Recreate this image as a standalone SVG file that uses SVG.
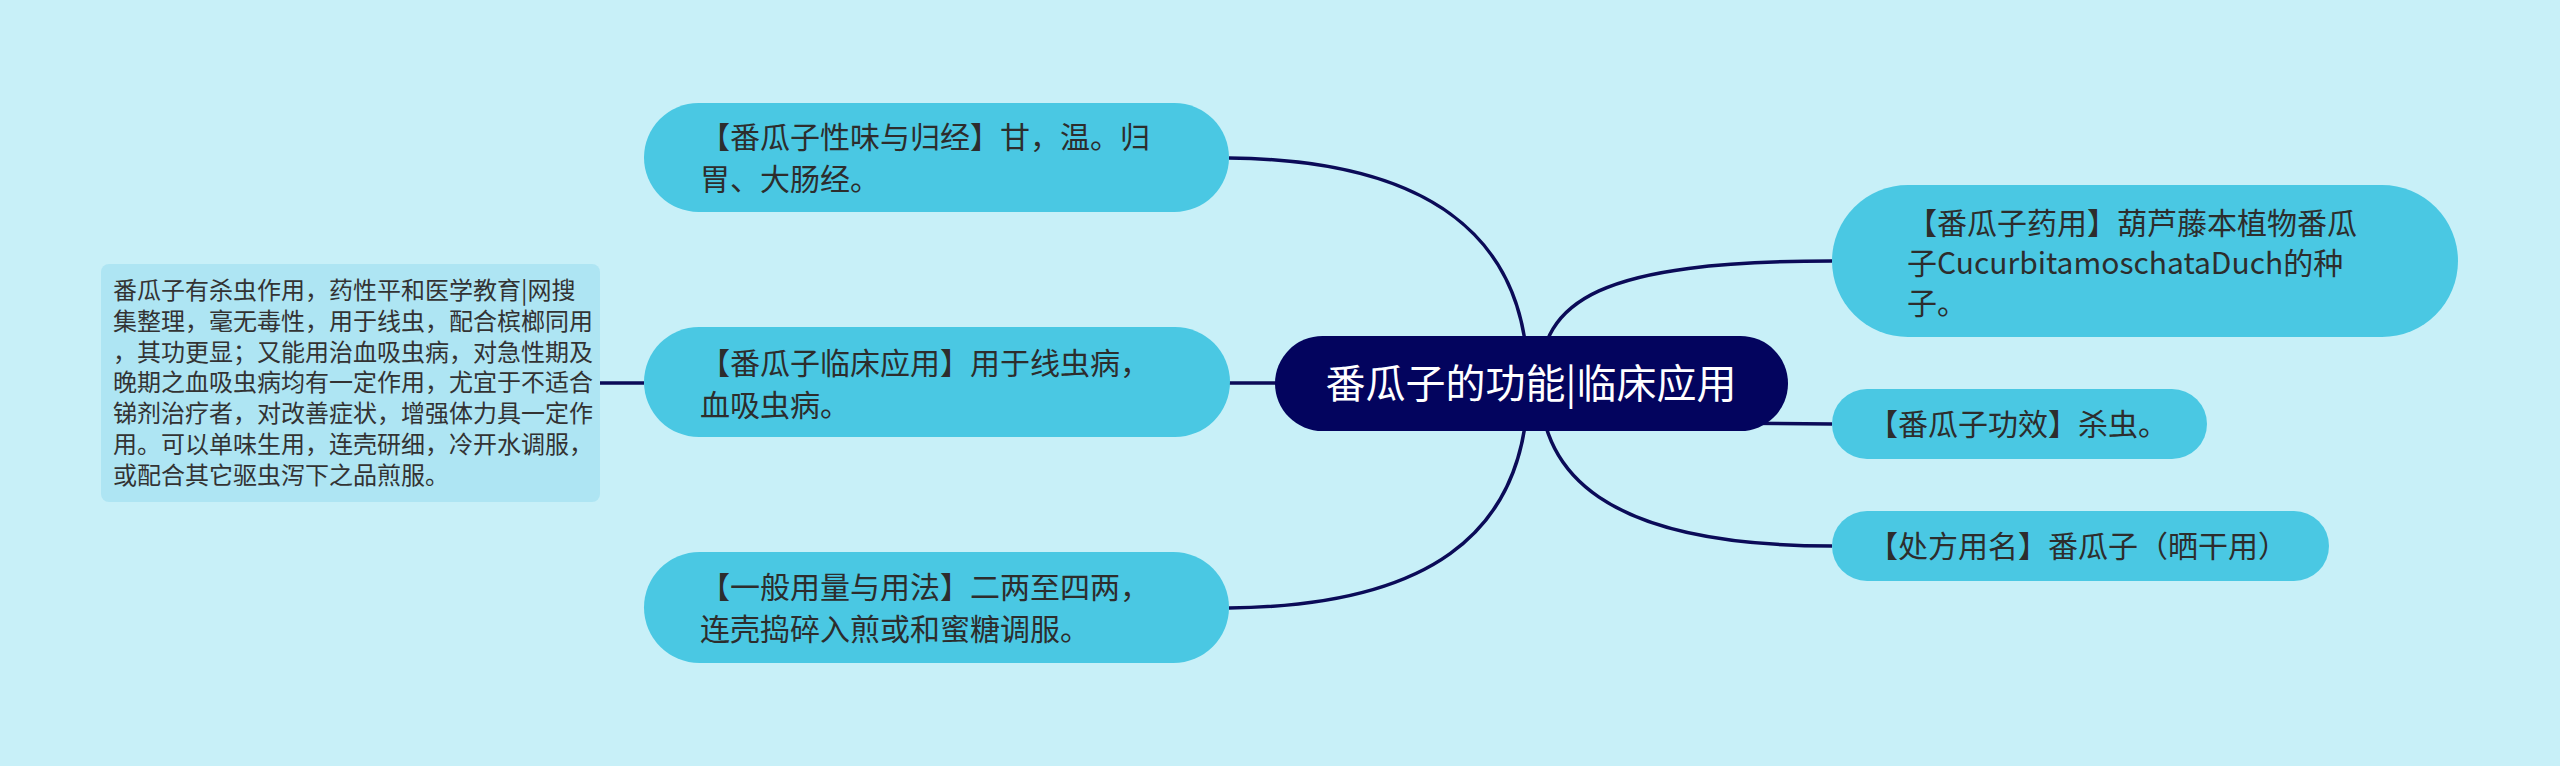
<svg xmlns="http://www.w3.org/2000/svg" width="2560" height="766" viewBox="0 0 2560 766">
<style>
.pill{fill:#4ac8e3;}
.box{fill:#aee5f3;}
.center{fill:#03045e;}
.t{font-family:"Noto Sans CJK SC","Noto Sans",sans-serif;font-size:30px;fill:#2d2d2d;}
.s{font-family:"Noto Sans CJK SC","Noto Sans",sans-serif;font-size:24px;fill:#333333;}
.c{font-family:"Noto Sans CJK SC","Noto Sans",sans-serif;font-size:40px;fill:#ffffff;text-anchor:middle;}
.ln{fill:none;stroke:#0b0b58;stroke-width:3.5;}
</style>
<rect width="2560" height="766" fill="#c8f0f8"/>
<g id="connectors">
<path class="ln" d="M1229,158 C1420,160 1528,230 1528,383"/>
<path class="ln" d="M1229,383 L1400,383"/>
<path class="ln" d="M1229,608 C1420,606 1528,540 1528,383"/>
<path class="ln" d="M1540,383 C1540,300 1600,261 1832,261"/>
<path class="ln" d="M1700,423 L1832,424"/>
<path class="ln" d="M1540,383 C1540,470 1600,546 1832,546"/>
<path class="ln" d="M600,383 L644,383"/>
</g>
<g id="node-center">
<rect class="center" x="1275" y="336" width="513" height="95" rx="47.5"/>
<text class="c" x="1531" y="398">番瓜子的功能|临床应用</text>
</g>
<g id="node-xingwei">
<rect class="pill" x="644" y="103" width="585" height="109" rx="54.5"/>
<text class="t" x="700" y="148">【番瓜子性味与归经】甘，温。归</text>
<text class="t" x="700" y="190">胃、大肠经。</text>
</g>
<g id="node-linchuang">
<rect class="pill" x="644" y="327" width="586" height="110" rx="55"/>
<text class="t" x="700" y="374">【番瓜子临床应用】用于线虫病，</text>
<text class="t" x="700" y="416">血吸虫病。</text>
</g>
<g id="node-yongliang">
<rect class="pill" x="644" y="552" width="585" height="111" rx="55.5"/>
<text class="t" x="700" y="598">【一般用量与用法】二两至四两，</text>
<text class="t" x="700" y="640">连壳捣碎入煎或和蜜糖调服。</text>
</g>
<g id="node-detail">
<rect class="box" x="101" y="264" width="499" height="238" rx="8"/>
<text class="s" x="113" y="299">番瓜子有杀虫作用，药性平和医学教育|网搜</text>
<text class="s" x="113" y="330">集整理，毫无毒性，用于线虫，配合槟榔同用</text>
<text class="s" x="113" y="361">，其功更显；又能用治血吸虫病，对急性期及</text>
<text class="s" x="113" y="391">晚期之血吸虫病均有一定作用，尤宜于不适合</text>
<text class="s" x="113" y="422">锑剂治疗者，对改善症状，增强体力具一定作</text>
<text class="s" x="113" y="453">用。可以单味生用，连壳研细，冷开水调服，</text>
<text class="s" x="113" y="484">或配合其它驱虫泻下之品煎服。</text>
</g>
<g id="node-yaoyong">
<rect class="pill" x="1832" y="185" width="626" height="152" rx="76"/>
<text class="t" x="1907" y="234">【番瓜子药用】葫芦藤本植物番瓜</text>
<text class="t" x="1907" y="274">子CucurbitamoschataDuch的种</text>
<text class="t" x="1907" y="314">子。</text>
</g>
<g id="node-gongxiao">
<rect class="pill" x="1832" y="389" width="375" height="70" rx="35"/>
<text class="t" x="1868" y="435">【番瓜子功效】杀虫。</text>
</g>
<g id="node-chufang">
<rect class="pill" x="1832" y="511" width="497" height="70" rx="35"/>
<text class="t" x="1868" y="557">【处方用名】番瓜子（晒干用）</text>
</g>
</svg>
